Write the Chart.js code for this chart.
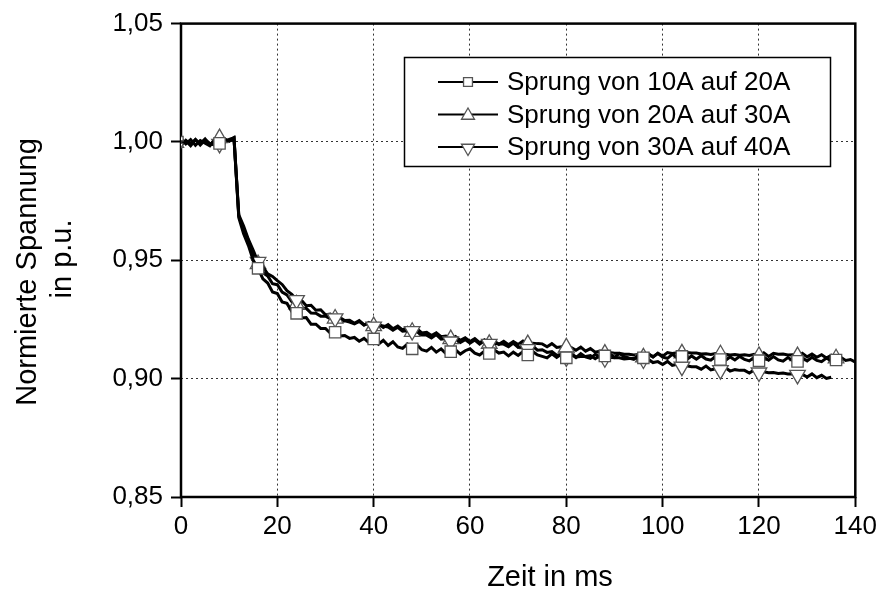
<!DOCTYPE html>
<html>
<head>
<meta charset="utf-8">
<script src="https://cdn.jsdelivr.net/npm/chart.js@4/dist/chart.umd.min.js"></script>
<style>
  html, body { margin: 0; padding: 0; background: #fff; }
  #wrap { width: 881px; height: 590px; }
</style>
</head>
<body>
<div id="wrap"><canvas id="c" width="881" height="590"></canvas></div>
<script>
// Axis ticks
const xTicks = [0, 20, 40, 60, 80, 100, 120, 140];
const xTickLabels = ['0', '20', '40', '60', '80', '100', '120', '140'];
const yTicks = [0.85, 0.90, 0.95, 1.00, 1.05];
const yTickLabels = ['0,85', '0,90', '0,95', '1,00', '1,05'];

// Series names
const seriesNames = ['Sprung von 10A auf 20A', 'Sprung von 20A auf 30A', 'Sprung von 30A auf 40A'];

// Sample times in ms
const timeMs = [
  0, 1, 2, 3, 4, 5, 6, 7, 8, 9, 10, 11, 12, 13, 14, 15, 16, 17, 18, 19,
  20, 21, 22, 23, 24, 25, 26, 27, 28, 29, 30, 31, 32, 33, 34, 35, 36, 37, 38, 39,
  40, 41, 42, 43, 44, 45, 46, 47, 48, 49, 50, 51, 52, 53, 54, 55, 56, 57, 58, 59,
  60, 61, 62, 63, 64, 65, 66, 67, 68, 69, 70, 71, 72, 73, 74, 75, 76, 77, 78, 79,
  80, 81, 82, 83, 84, 85, 86, 87, 88, 89, 90, 91, 92, 93, 94, 95, 96, 97, 98, 99,
  100, 101, 102, 103, 104, 105, 106, 107, 108, 109, 110, 111, 112, 113, 114, 115, 116, 117, 118, 119,
  120, 121, 122, 123, 124, 125, 126, 127, 128, 129, 130, 131, 132, 133, 134, 135, 136, 137, 138, 139,
  140
];

// Normalised voltage (p.u.), one value per ms
const step10to20 = [
  1.0014, 0.9992, 1.0010, 0.9986, 1.0006, 0.9995, 0.9984, 1.0008, 0.9994, 1.0013, 1.0003, 1.0015,
  0.9680, 0.9612, 0.9562, 0.9500, 0.9466, 0.9422, 0.9404, 0.9366, 0.9360, 0.9324, 0.9318, 0.9284, 0.9276,
  0.9256, 0.9258, 0.9230, 0.9230, 0.9212, 0.9212, 0.9192, 0.9196, 0.9180, 0.9182, 0.9170, 0.9174, 0.9158, 0.9170, 0.9152, 0.9168,
  0.9146, 0.9162, 0.9140, 0.9156, 0.9134, 0.9128, 0.9146, 0.9126, 0.9142, 0.9122, 0.9116, 0.9132, 0.9112, 0.9126, 0.9106, 0.9114,
  0.9122, 0.9104, 0.9118, 0.9126, 0.9108, 0.9100, 0.9116, 0.9106, 0.9122, 0.9108, 0.9112, 0.9096, 0.9112, 0.9098, 0.9114, 0.9100,
  0.9115, 0.9100, 0.9094, 0.9088, 0.9105, 0.9090, 0.9104, 0.9088, 0.9103, 0.9089, 0.9106, 0.9092, 0.9086, 0.9103, 0.9090, 0.9096,
  0.9104, 0.9090, 0.9106, 0.9093, 0.9087, 0.9082, 0.9099, 0.9088, 0.9105, 0.9092, 0.9107, 0.9091, 0.9086, 0.9103, 0.9089, 0.9094,
  0.9080, 0.9096, 0.9082, 0.9097, 0.9083, 0.9078, 0.9094, 0.9081, 0.9076, 0.9092, 0.9079, 0.9094, 0.9081, 0.9075, 0.9090, 0.9076,
  0.9091, 0.9078, 0.9093, 0.9079, 0.9074, 0.9089, 0.9076, 0.9073, 0.9088, 0.9075, 0.9090, 0.9077, 0.9072, 0.9087, 0.9075, 0.9079
];

const step20to30 = [
  0.9984, 1.0007, 0.9991, 1.0011, 0.9987, 1.0008, 0.9994, 0.9986, 1.0016, 0.9997, 1.0011, 1.0017,
  0.9686, 0.9630, 0.9584, 0.9523, 0.9484, 0.9448, 0.9434, 0.9401, 0.9397, 0.9366, 0.9354, 0.9325, 0.9314,
  0.9297, 0.9297, 0.9277, 0.9276, 0.9264, 0.9264, 0.9253, 0.9254, 0.9242, 0.9244, 0.9239, 0.9231, 0.9242, 0.9226, 0.9237, 0.9222,
  0.9233, 0.9216, 0.9228, 0.9211, 0.9222, 0.9206, 0.9217, 0.9198, 0.9210, 0.9193, 0.9196, 0.9182, 0.9194, 0.9177, 0.9180, 0.9167,
  0.9178, 0.9162, 0.9173, 0.9157, 0.9169, 0.9152, 0.9164, 0.9147, 0.9159, 0.9145, 0.9158, 0.9143, 0.9157, 0.9144, 0.9159, 0.9146,
  0.9150, 0.9148, 0.9147, 0.9135, 0.9148, 0.9132, 0.9135, 0.9132, 0.9132, 0.9120, 0.9133, 0.9116, 0.9127, 0.9112, 0.9116, 0.9106,
  0.9110, 0.9107, 0.9107, 0.9103, 0.9103, 0.9100, 0.9102, 0.9090, 0.9105, 0.9092, 0.9107, 0.9095, 0.9110, 0.9106, 0.9109, 0.9107,
  0.9110, 0.9108, 0.9108, 0.9104, 0.9105, 0.9102, 0.9106, 0.9103, 0.9103, 0.9100, 0.9102, 0.9099, 0.9101, 0.9098, 0.9103, 0.9096,
  0.9109, 0.9094, 0.9107, 0.9103, 0.9104, 0.9100, 0.9101, 0.9095, 0.9107, 0.9092, 0.9104, 0.9090, 0.9101, 0.9087, 0.9099, 0.9086,
  0.9090, 0.9077, 0.9081, 0.9070
];

const step30to40 = [
  0.9988, 1.0004, 0.9984, 1.0009, 0.9993, 1.0013, 0.9989, 1.0006, 0.9992, 1.0008, 1.0007, 1.0019,
  0.9692, 0.9645, 0.9588, 0.9542, 0.9493, 0.9472, 0.9443, 0.9432, 0.9414, 0.9398, 0.9372, 0.9356, 0.9332,
  0.9331, 0.9308, 0.9310, 0.9289, 0.9291, 0.9270, 0.9273, 0.9255, 0.9258, 0.9246, 0.9247, 0.9234, 0.9245, 0.9228, 0.9233, 0.9220,
  0.9224, 0.9222, 0.9218, 0.9205, 0.9217, 0.9200, 0.9202, 0.9201, 0.9198, 0.9184, 0.9184, 0.9172, 0.9186, 0.9167, 0.9170, 0.9157,
  0.9168, 0.9153, 0.9165, 0.9150, 0.9163, 0.9146, 0.9160, 0.9147, 0.9149, 0.9146, 0.9146, 0.9135, 0.9150, 0.9132, 0.9135, 0.9125,
  0.9138, 0.9120, 0.9122, 0.9111, 0.9114, 0.9099, 0.9101, 0.9090, 0.9105, 0.9092, 0.9094, 0.9094, 0.9097, 0.9084, 0.9099, 0.9086,
  0.9090, 0.9088, 0.9088, 0.9083, 0.9085, 0.9085, 0.9088, 0.9081, 0.9082, 0.9068, 0.9072, 0.9060, 0.9073, 0.9056, 0.9061, 0.9051,
  0.9054, 0.9050, 0.9050, 0.9040, 0.9053, 0.9037, 0.9042, 0.9036, 0.9047, 0.9032, 0.9038, 0.9035, 0.9035, 0.9024, 0.9037, 0.9026,
  0.9029, 0.9025, 0.9026, 0.9022, 0.9024, 0.9020, 0.9021, 0.9016, 0.9018, 0.9007, 0.9020, 0.9004, 0.9014, 0.9001, 0.9006
];

// Symbols are placed every 8 ms
const markerTimes = [0, 8, 16, 24, 32, 40, 48, 56, 64, 72, 80, 88, 96, 104, 112, 120, 128, 136];

const FONT = '"Liberation Sans", Arial, Helvetica, sans-serif';

function toPoints(values) {
  return values.map((v, i) => ({ x: timeMs[i], y: v }));
}

const symbolStyles = [
  { pointStyle: 'rect', rotation: 0, radius: 8, legendRadius: 6.3 },
  { pointStyle: 'triangle', rotation: 0, radius: 9, legendRadius: 7.5 },
  { pointStyle: 'triangle', rotation: 180, radius: 9, legendRadius: 7.5 }
];

function makeDataset(idx, values, order) {
  const s = symbolStyles[idx];
  return {
    label: seriesNames[idx],
    data: toPoints(values),
    order: order,
    borderColor: '#000',
    borderWidth: 3,
    tension: 0,
    pointStyle: s.pointStyle,
    pointRotation: s.rotation,
    pointBackgroundColor: '#fff',
    pointBorderColor: '#555',
    pointBorderWidth: 1.3,
    pointRadius: (ctx) => {
      const p = ctx.raw;
      if (!p || !markerTimes.includes(p.x)) return 0;
      return p.x === 0 ? 3 : s.radius;
    },
    pointHoverRadius: 0
  };
}

// Frame around the plot area
const framePlugin = {
  id: 'frame',
  beforeDatasetsDraw(chart) {
    const { ctx, chartArea: a } = chart;
    ctx.save();
    ctx.strokeStyle = '#000';
    ctx.lineWidth = 2.5;
    ctx.strokeRect(a.left, a.top, a.right - a.left, a.bottom - a.top);
    ctx.restore();
  }
};

function drawSymbol(ctx, style, rotation, r, x, y) {
  ctx.beginPath();
  if (style === 'rect') {
    const h = r * Math.SQRT1_2;
    ctx.rect(x - h, y - h, 2 * h, 2 * h);
  } else {
    let rad = rotation * Math.PI / 180;
    for (let k = 0; k < 3; k++) {
      const px = x + Math.sin(rad) * r;
      const py = y - Math.cos(rad) * r;
      if (k === 0) ctx.moveTo(px, py); else ctx.lineTo(px, py);
      rad += 2 * Math.PI / 3;
    }
    ctx.closePath();
  }
  ctx.fill();
  ctx.stroke();
}

// Boxed legend inside the plot area
const legendBoxPlugin = {
  id: 'legendBox',
  afterDraw(chart) {
    const { ctx } = chart;
    const box = { x: 404.5, y: 57.5, w: 426, h: 109 };
    ctx.save();
    ctx.fillStyle = '#fff';
    ctx.fillRect(box.x, box.y, box.w, box.h);
    ctx.strokeStyle = '#000';
    ctx.lineWidth = 1.5;
    ctx.strokeRect(box.x, box.y, box.w, box.h);
    const rows = [82, 114.5, 147];
    ctx.font = '26px ' + FONT;
    ctx.textBaseline = 'middle';
    ctx.textAlign = 'left';
    seriesNames.forEach((name, i) => {
      const y = rows[i];
      ctx.strokeStyle = '#000';
      ctx.lineWidth = 2;
      ctx.beginPath();
      ctx.moveTo(438, y);
      ctx.lineTo(498, y);
      ctx.stroke();
      const s = symbolStyles[i];
      ctx.fillStyle = '#fff';
      ctx.strokeStyle = '#555';
      ctx.lineWidth = 1.3;
      drawSymbol(ctx, s.pointStyle, s.rotation, s.legendRadius, 468, s.pointStyle === 'rect' ? y : y + 1);
      ctx.fillStyle = '#000';
      ctx.fillText(name, 507, y + 1);
    });
    ctx.restore();
  }
};

// Axis titles
const axisTitlePlugin = {
  id: 'axisTitles',
  afterDraw(chart) {
    const { ctx } = chart;
    const font = '29px ' + FONT;
    ctx.save();
    ctx.fillStyle = '#000';
    ctx.font = font;
    ctx.textAlign = 'center';
    ctx.textBaseline = 'middle';
    ctx.fillText('Zeit in ms', 550, 578);
    ctx.restore();

    [['Normierte Spannung', 28, 272], ['in p.u.', 63, 259]].forEach(([txt, x, y]) => {
      ctx.save();
      ctx.fillStyle = '#000';
      ctx.font = font;
      ctx.textAlign = 'center';
      ctx.textBaseline = 'middle';
      ctx.translate(x, y);
      ctx.rotate(-Math.PI / 2);
      ctx.fillText(txt, 0, 0);
      ctx.restore();
    });
  }
};

const gridCommon = {
  color: '#333',
  lineWidth: 1,
  drawTicks: true,
  tickLength: 10,
  tickWidth: 2,
  tickColor: '#000',
  tickBorderDash: []
};

new Chart(document.getElementById('c'), {
  type: 'line',
  data: {
    datasets: [
      makeDataset(0, step10to20, 0),
      makeDataset(1, step20to30, 2),
      makeDataset(2, step30to40, 1)
    ]
  },
  options: {
    responsive: false,
    animation: false,
    events: [],
    layout: { padding: { top: 19, right: 24, left: 0, bottom: 0 } },
    plugins: { legend: { display: false }, tooltip: { enabled: false } },
    scales: {
      x: {
        type: 'linear',
        min: 0,
        max: 140,
        afterBuildTicks: (scale) => { scale.ticks = xTicks.map(v => ({ value: v })); },
        afterFit: (scale) => { scale.height = 93; },
        ticks: {
          color: '#000',
          font: { family: FONT, size: 26 },
          padding: 4,
          maxRotation: 0,
          autoSkip: false,
          callback: (v, i) => xTickLabels[i]
        },
        grid: gridCommon,
        border: { display: false, dash: [2, 3] }
      },
      y: {
        type: 'linear',
        min: 0.85,
        max: 1.05,
        afterBuildTicks: (scale) => { scale.ticks = yTicks.map(v => ({ value: v })); },
        afterFit: (scale) => { scale.width = 181; },
        ticks: {
          color: '#000',
          font: { family: FONT, size: 26 },
          padding: 8,
          autoSkip: false,
          callback: (v, i) => yTickLabels[i]
        },
        grid: gridCommon,
        border: { display: false, dash: [2, 3] }
      }
    }
  },
  plugins: [framePlugin, legendBoxPlugin, axisTitlePlugin]
});
</script>
</body>
</html>
